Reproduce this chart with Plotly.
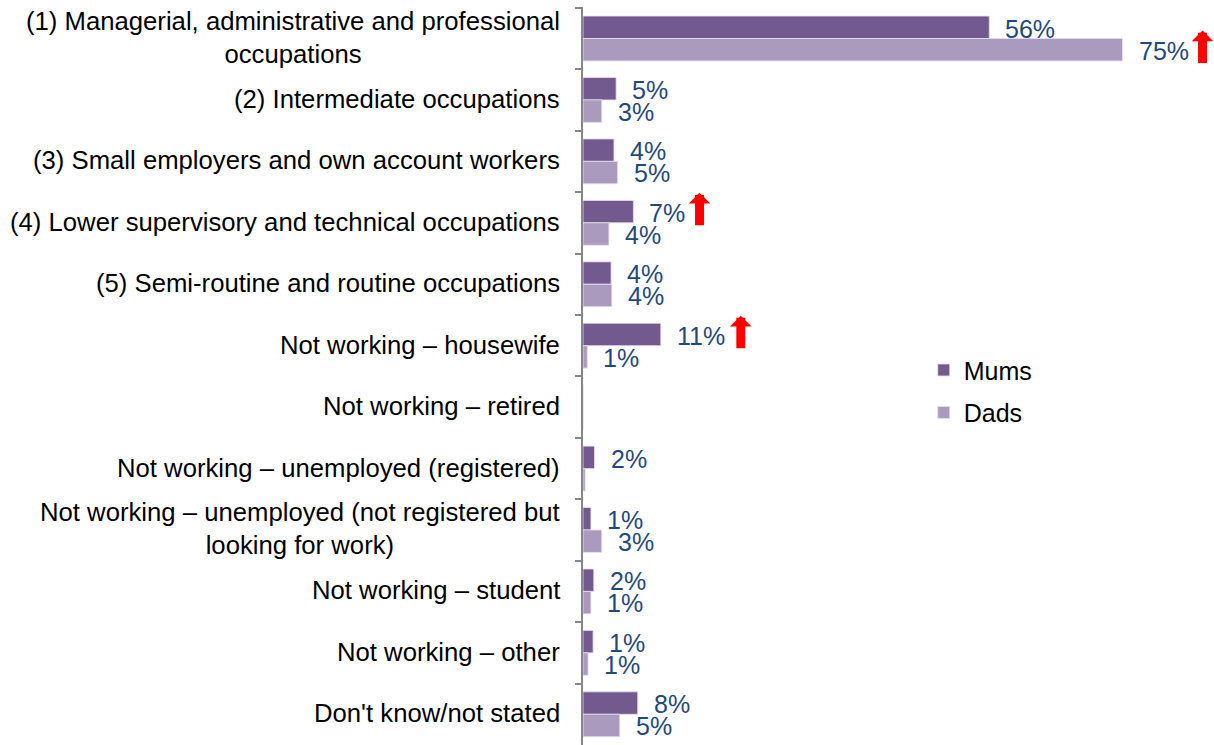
import plotly.graph_objects as go

categories = [
    "(1) Managerial, administrative and professional<br>occupations",
    "(2) Intermediate occupations",
    "(3) Small employers and own account workers",
    "(4) Lower supervisory and technical occupations",
    "(5) Semi-routine and routine occupations",
    "Not working – housewife",
    "Not working – retired",
    "Not working – unemployed (registered)",
    "Not working – unemployed (not registered but<br>looking for work)",
    "Not working – student",
    "Not working – other",
    "Don't know/not stated",
]
mums = [56.4, 4.6, 4.3, 7.0, 3.9, 10.8, 0.0, 1.6, 1.1, 1.5, 1.4, 7.6]
dads = [74.9, 2.6, 4.8, 3.6, 4.0, 0.6, 0.0, 0.3, 2.6, 1.1, 0.7, 5.1]
mums_up = [False, False, False, True, False, True, False, False, False, False, False, False]
dads_up = [True, False, False, False, False, False, False, False, False, False, False, False]

MUM_C = "#725A8E"
DAD_C = "#AA9BBE"
LBL_C = "#1F497D"
FONT = "Arial, Liberation Sans, sans-serif"
FS_CAT = 25.7
FS = 25

fig = go.Figure()
fig.add_trace(go.Bar(y=categories, x=mums, orientation="h", name="Mums",
                     marker=dict(color=MUM_C, line=dict(color="#E6E0EE", width=0.8)),
                     legendgroup="m", hoverinfo="skip"))
fig.add_trace(go.Bar(y=categories, x=dads, orientation="h", name="Dads",
                     marker=dict(color=DAD_C, line=dict(color="#E6E0EE", width=0.8)),
                     legendgroup="d", hoverinfo="skip"))

def text_w(s, fs):
    w = 0
    for ch in s:
        w += 0.889 if ch == "%" else 0.556
    return w * fs

ann = []
for series, ups, off in ((mums, mums_up, 10), (dads, dads_up, -12)):
    for cat, v, up in zip(categories, series, ups):
        r = int(v + 0.5)
        if r < 1:
            continue
        lbl = f"{r}%"
        ann.append(dict(x=v, y=cat, xref="x", yref="y", text=lbl, showarrow=False,
                        xanchor="left", yanchor="middle", xshift=14, yshift=off,
                        font=dict(family=FONT, size=FS, color=LBL_C)))
        if up:
            ann.append(dict(x=v, y=cat, xref="x", yref="y", text="", showarrow=True,
                            ax=0, ay=34, axref="pixel", ayref="pixel",
                            arrowhead=1, arrowsize=0.4, arrowwidth=9, arrowcolor="#FF0000",
                            standoff=0,
                            xshift=16 + text_w(lbl, FS) + 14, yshift=off + 20))

for cat in categories:
    ann.append(dict(x=0, y=cat, xref="paper", yref="y", text=cat, showarrow=False,
                    xanchor="right", yanchor="middle", align="center", xshift=-21,
                    yshift=1,
                    font=dict(family=FONT, size=FS_CAT, color="#000000")))

fig.update_layout(
    width=1214, height=745,
    margin=dict(l=583, r=0, t=7, b=0),
    paper_bgcolor="white", plot_bgcolor="white",
    barmode="group", bargap=0.27, bargroupgap=0,
    font=dict(family=FONT, size=FS, color="#000000"),
    xaxis=dict(range=[0, 87.6], showgrid=False, zeroline=False, showticklabels=False,
               showline=False, ticks=""),
    yaxis=dict(autorange="reversed", showgrid=False, zeroline=False, showticklabels=False,
               showline=True, linecolor="#868686", linewidth=1.5,
               ticks="outside", ticklen=6, tickcolor="#868686", tickwidth=1.5,
               tickson="boundaries"),
    legend=dict(x=0.54, y=0.539, xanchor="left", yanchor="top",
                font=dict(family=FONT, size=FS, color="#000000"),
                tracegroupgap=7, bgcolor="rgba(0,0,0,0)", itemwidth=30),
    annotations=ann,
    showlegend=True,
)

fig.write_html("out.html",
               config={"displayModeBar": False},
               post_script="document.body.style.margin='0';document.body.style.overflow='hidden';")
